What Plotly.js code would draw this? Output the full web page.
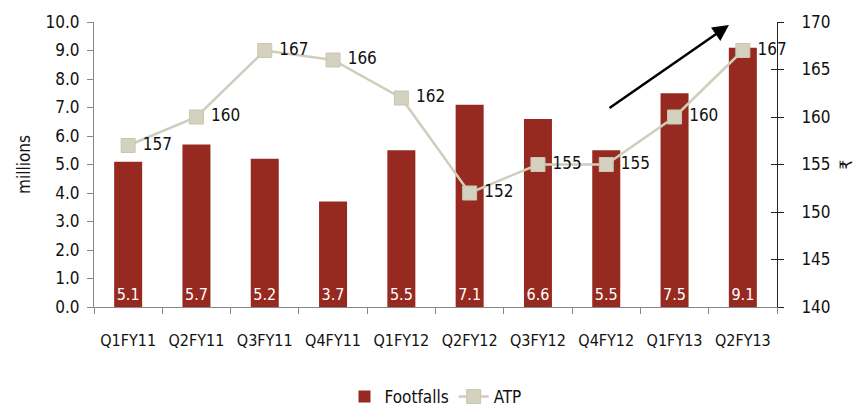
<!DOCTYPE html>
<html><head><meta charset="utf-8">
<script src="https://cdn.plot.ly/plotly-3.0.1.min.js"></script>
<style>body{margin:0;background:#fff}#c{width:864px;height:409px}</style>
</head><body><div id="c"></div>
<script>
const categories = ["Q1FY11","Q2FY11","Q3FY11","Q4FY11","Q1FY12","Q2FY12","Q3FY12","Q4FY12","Q1FY13","Q2FY13"];
const footfalls = [5.1,5.7,5.2,3.7,5.5,7.1,6.6,5.5,7.5,9.1];
const atp = [157,160,167,166,162,152,155,155,160,167];
const leftTicks = [0,1,2,3,4,5,6,7,8,9,10];
const rightTicks = [140,145,150,155,160,165,170];

const FONT = "'DejaVu Sans Condensed','Liberation Sans Narrow',Roboto,sans-serif";
const FS = 17;
const barColor = "#962a20";
const atpColor = "#cfcdbb";

const traces = [
  {type:"bar", name:"Footfalls", x:categories, y:footfalls, marker:{color:barColor},
   width:0.41, text:footfalls.map(v=>v.toFixed(1)), textposition:"inside", insidetextanchor:"start",
   textangle:0, constraintext:"none",
   textfont:{color:"#ffffff", size:16, family:FONT}, cliponaxis:false, hoverinfo:"skip"},
  {type:"scatter", mode:"lines+markers+text", name:"ATP", x:categories, y:atp, yaxis:"y2",
   line:{color:atpColor, width:2.5}, marker:{symbol:"square", size:14, color:"#d4d1be", line:{color:"#c9c6b2", width:1}},
   text:atp.map(v=>" "+v), textposition:"middle right", textfont:{color:"#111", size:FS, family:FONT}, cliponaxis:false}
];

const layout = {
  width:864, height:409, margin:{l:94, r:87, t:22, b:102, autoexpand:false},
  paper_bgcolor:"#fff", plot_bgcolor:"#fff",
  font:{family:FONT, size:FS, color:"#111"},
  showlegend:true,
  legend:{orientation:"h", x:0.5, xanchor:"center", yref:"container", y:12/409, yanchor:"middle", font:{size:FS, family:FONT}, traceorder:"normal"},
  xaxis:{type:"category", range:[-0.5, categories.length-0.5], showline:true, linecolor:"#888", linewidth:1, ticks:"outside", tickson:"boundaries",
    ticklen:6, tickcolor:"#888", showgrid:false, tickfont:{size:16, family:FONT}, tickangle:0, zeroline:false, ticklabelstandoff:19, automargin:false},
  yaxis:{range:[0,10], tickvals:leftTicks, ticktext:leftTicks.map(v=>v.toFixed(1)), showline:true, linecolor:"#888",
    ticks:"outside", ticklen:6, tickcolor:"#888", showgrid:false, zeroline:false, tickfont:{size:FS, family:FONT},
    ticklabelstandoff:4, automargin:false,
    title:{text:"millions", font:{size:FS, family:FONT}, standoff:10}},
  yaxis2:{range:[140,170], tickvals:rightTicks, overlaying:"y", side:"right", showline:true, linecolor:"#222",
    ticks:"outside", ticklen:6, tickcolor:"#222", showgrid:false, zeroline:false, tickfont:{size:FS, family:FONT},
    ticklabelstandoff:14, automargin:false,
    title:{text:"₹", font:{size:FS, family:FONT}, standoff:10}},
  yaxis3:{range:[140,170], tickvals:rightTicks, overlaying:"y", side:"right", showline:false,
    ticks:"inside", ticklen:6, tickcolor:"#222", showticklabels:false, showgrid:false, zeroline:false, automargin:false},
  annotations:[{xref:"paper", yref:"paper", x:(729-94)/683, y:(307-25)/285, ax:(608-94)/683, ay:(307-109)/285,
    axref:"paper", ayref:"paper", showarrow:true, arrowhead:2, arrowsize:1.3, arrowwidth:2.5, arrowcolor:"#000", text:""}]
};
traces.push({type:"scatter", x:[categories[0]], y:[150], yaxis:"y3", mode:"markers", marker:{opacity:0}, showlegend:false, hoverinfo:"skip"});
Plotly.newPlot("c", traces, layout, {displayModeBar:false, staticPlot:true});
</script></body></html>
